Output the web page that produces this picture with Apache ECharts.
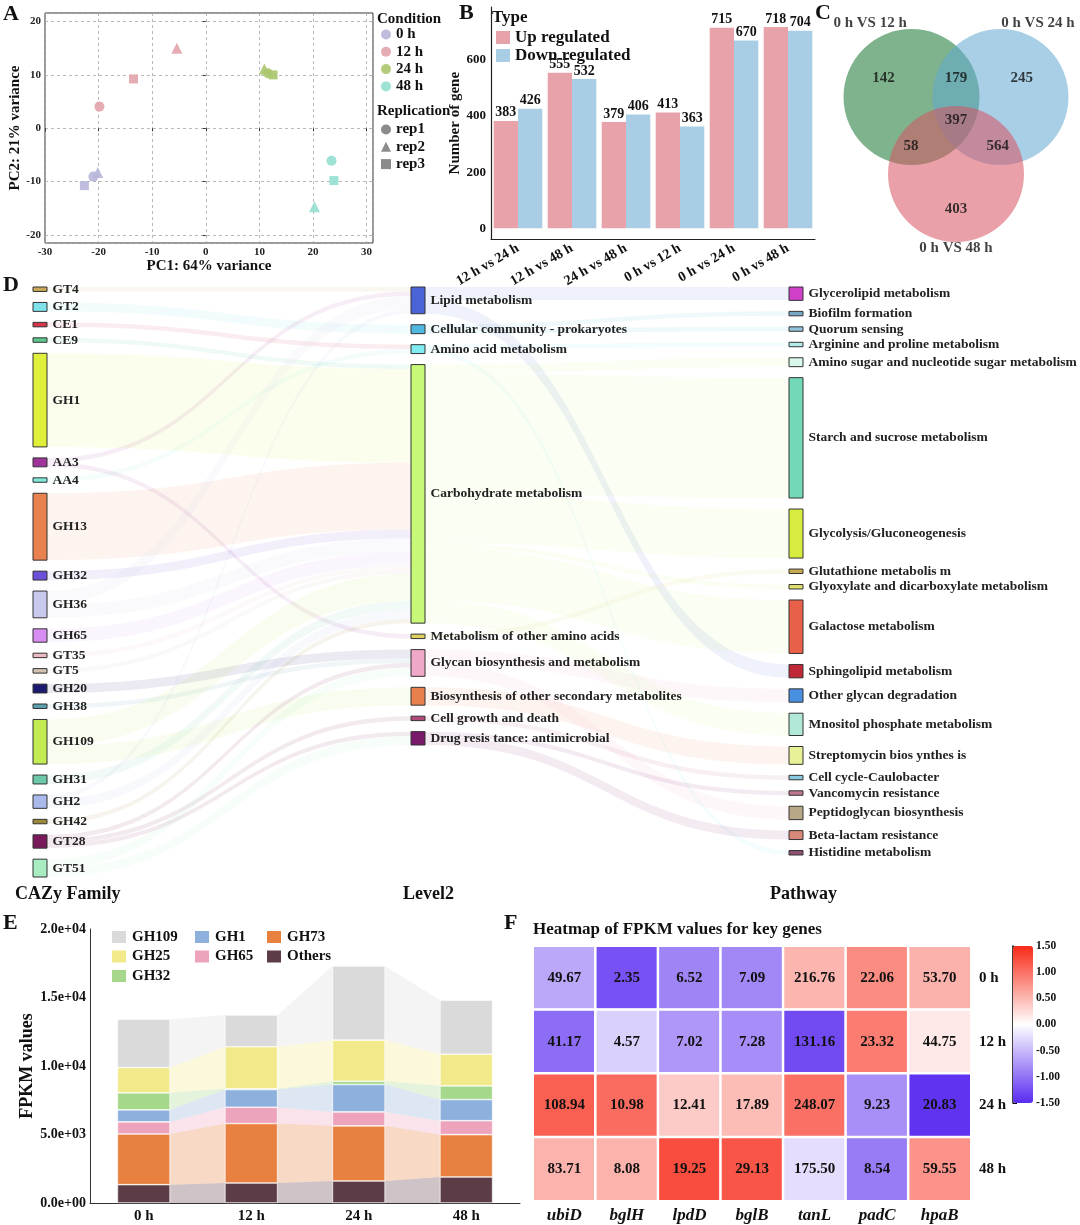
<!DOCTYPE html>
<html>
<head>
<meta charset="utf-8">
<script src="https://cdn.jsdelivr.net/npm/echarts@6.0.0/dist/echarts.min.js"></script>
<style>
html,body{margin:0;padding:0;background:#fff;}
#chart{width:1080px;height:1225px;}
</style>
</head>
<body>
<div id="chart"></div>
<script>
// ================= DATA =================
// A: PCA (each list ordered rep1, rep2, rep3)
const pcaConditions = ['0 h', '12 h', '24 h', '48 h'];
const pcaReplicates = ['rep1', 'rep2', 'rep3'];
const pca0h  = [[-20.97, -9.06], [-20.16, -8.30], [-22.65, -10.75]];
const pca12h = [[-19.85, 4.06], [-5.39, 15.00], [-13.49, 9.25]];
const pca24h = [[11.60, 10.30], [10.93, 11.10], [12.55, 10.00]];
const pca48h = [[23.46, -6.10], [20.28, -14.70], [23.90, -9.80]];

// B: DEG counts
const degComparisons = ['12 h vs 24 h', '12 h vs 48 h', '24 h vs 48 h', '0 h vs 12 h', '0 h vs 24 h', '0 h vs 48 h'];
const degUp   = [383, 555, 379, 413, 715, 718];
const degDown = [426, 532, 406, 363, 670, 704];

// C: Venn
const vennSets = ['0 h VS 12 h', '0 h VS 24 h', '0 h VS 48 h'];
const vennRegions = ['12 only', '24 only', '48 only', '12&24', '12&48', '24&48', 'all'];
const vennCounts = [142, 245, 403, 179, 58, 564, 397];

// D: Sankey
const cazyFamilies = ['GT4', 'GT2', 'CE1', 'CE9', 'GH1', 'AA3', 'AA4', 'GH13', 'GH32', 'GH36', 'GH65', 'GT35', 'GT5', 'GH20', 'GH38', 'GH109', 'GH31', 'GH2', 'GH42', 'GT28', 'GT51'];
const level2Categories = ['Lipid metabolism', 'Cellular community - prokaryotes', 'Amino acid metabolism', 'Carbohydrate metabolism', 'Metabolism of other amino acids', 'Glycan biosynthesis and metabolism', 'Biosynthesis of other secondary metabolites', 'Cell growth and death', 'Drug resis tance: antimicrobial'];
const pathways = ['Glycerolipid metabolism', 'Biofilm formation', 'Quorum sensing', 'Arginine and proline metabolism', 'Amino sugar and nucleotide sugar metabolism', 'Starch and sucrose metabolism', 'Glycolysis/Gluconeogenesis', 'Glutathione metabolis m', 'Glyoxylate and dicarboxylate metabolism', 'Galactose metabolism', 'Sphingolipid metabolism', 'Other glycan degradation', 'Mnositol phosphate metabolism', 'Streptomycin bios ynthes is', 'Cell cycle-Caulobacter', 'Vancomycin resistance', 'Peptidoglycan biosynthesis', 'Beta-lactam resistance', 'Histidine metabolism'];
const cazyToLevel2 = [
  ['GT4', 'Lipid metabolism', 1],
  ['GT2', 'Cellular community - prokaryotes', 2],
  ['CE1', 'Amino acid metabolism', 1],
  ['CE9', 'Carbohydrate metabolism', 1],
  ['GH1', 'Carbohydrate metabolism', 21],
  ['AA3', 'Lipid metabolism', 1],
  ['AA3', 'Metabolism of other amino acids', 1],
  ['AA4', 'Amino acid metabolism', 1],
  ['GH13', 'Carbohydrate metabolism', 15],
  ['GH32', 'Carbohydrate metabolism', 2],
  ['GH36', 'Lipid metabolism', 3],
  ['GH36', 'Carbohydrate metabolism', 3],
  ['GH65', 'Carbohydrate metabolism', 3],
  ['GT35', 'Carbohydrate metabolism', 1],
  ['GT5', 'Carbohydrate metabolism', 1],
  ['GH20', 'Glycan biosynthesis and metabolism', 2],
  ['GH38', 'Glycan biosynthesis and metabolism', 1],
  ['GH109', 'Carbohydrate metabolism', 6],
  ['GH109', 'Biosynthesis of other secondary metabolites', 4],
  ['GH31', 'Carbohydrate metabolism', 2],
  ['GH2', 'Lipid metabolism', 1],
  ['GH2', 'Carbohydrate metabolism', 2],
  ['GH42', 'Carbohydrate metabolism', 1],
  ['GT28', 'Glycan biosynthesis and metabolism', 1],
  ['GT28', 'Cell growth and death', 1],
  ['GT28', 'Drug resis tance: antimicrobial', 1],
  ['GT51', 'Glycan biosynthesis and metabolism', 2],
  ['GT51', 'Drug resis tance: antimicrobial', 2]
];
const level2ToPathway = [
  ['Lipid metabolism', 'Glycerolipid metabolism', 3],
  ['Lipid metabolism', 'Sphingolipid metabolism', 3],
  ['Cellular community - prokaryotes', 'Biofilm formation', 1],
  ['Cellular community - prokaryotes', 'Quorum sensing', 1],
  ['Amino acid metabolism', 'Arginine and proline metabolism', 1],
  ['Amino acid metabolism', 'Histidine metabolism', 1],
  ['Carbohydrate metabolism', 'Amino sugar and nucleotide sugar metabolism', 2],
  ['Carbohydrate metabolism', 'Starch and sucrose metabolism', 27],
  ['Carbohydrate metabolism', 'Glycolysis/Gluconeogenesis', 11],
  ['Carbohydrate metabolism', 'Glyoxylate and dicarboxylate metabolism', 1],
  ['Carbohydrate metabolism', 'Galactose metabolism', 12],
  ['Carbohydrate metabolism', 'Mnositol phosphate metabolism', 5],
  ['Metabolism of other amino acids', 'Glutathione metabolis m', 1],
  ['Glycan biosynthesis and metabolism', 'Other glycan degradation', 3],
  ['Glycan biosynthesis and metabolism', 'Peptidoglycan biosynthesis', 3],
  ['Biosynthesis of other secondary metabolites', 'Streptomycin bios ynthes is', 4],
  ['Cell growth and death', 'Cell cycle-Caulobacter', 1],
  ['Drug resis tance: antimicrobial', 'Vancomycin resistance', 1],
  ['Drug resis tance: antimicrobial', 'Beta-lactam resistance', 2]
];

// E: stacked FPKM
const timePoints = ['0 h', '12 h', '24 h', '48 h'];
const ghOthers = [1340, 1460, 1610, 1900];
const ghGH73   = [3700, 4340, 4020, 3090];
const ghGH65   = [880, 1190, 1020, 1020];
const ghGH1    = [880, 1290, 2000, 1540];
const ghGH32   = [1240, 60, 240, 1000];
const ghGH25   = [1850, 3070, 3000, 2310];
const ghGH109  = [3530, 2310, 5410, 3950];

// F: heatmap FPKM
const genes = ['ubiD', 'bglH', 'lpdD', 'bglB', 'tanL', 'padC', 'hpaB'];
const fpkmTimes = ['0 h', '12 h', '24 h', '48 h'];
const fpkm0h  = [49.67, 2.35, 6.52, 7.09, 216.76, 22.06, 53.70];
const fpkm12h = [41.17, 4.57, 7.02, 7.28, 131.16, 23.32, 44.75];
const fpkm24h = [108.94, 10.98, 12.41, 17.89, 248.07, 9.23, 20.83];
const fpkm48h = [83.71, 8.08, 19.25, 29.13, 175.50, 8.54, 59.55];

// ================= STYLE / LAYOUT =================
const FONT = 'Liberation Serif';
const T = (size, extra) => Object.assign({fontFamily: FONT, fontWeight: 'bold', fontSize: size, color: '#111'}, extra || {});

const condColors = ['#b7b6da', '#e2a3ab', '#abc66d', '#92dfcf'];
const repSymbols = ['circle', 'triangle', 'rect'];
const repSymbolSizes = [10, 11, 9];

const vennCircleCenters = [[-1, 1], [1, 1], [0, -1]];
const vennCircleColors = ['#167532', '#61a8d0', '#d75261'];
const vennCountPos = [[-1.63, 1.49], [1.48, 1.49], [0, -1.91], [0, 1.49], [-1.01, -0.27], [0.94, -0.27], [0, 0.40]];
const vennSetPos = [[-1.93, 2.92], [1.84, 2.92], [0, -2.92]];

const sankeyColors = {
  'GT4': '#c9a85c', 'GT2': '#7fe2ea', 'CE1': '#d8344a', 'CE9': '#5cc890', 'GH1': '#dff03a', 'AA3': '#a0339a',
  'AA4': '#80e8da', 'GH13': '#e8814e', 'GH32': '#6a4fd8', 'GH36': '#c9c9ee', 'GH65': '#d68cf0', 'GT35': '#ecb9c1',
  'GT5': '#d2c2b2', 'GH20': '#1c1a70', 'GH38': '#5aa0b0', 'GH109': '#c2ec52', 'GH31': '#6cc8a8', 'GH2': '#a9b9ec',
  'GH42': '#9a8a3a', 'GT28': '#7a1a5a', 'GT51': '#a9ecc2',
  'Lipid metabolism': '#4a64d8', 'Cellular community - prokaryotes': '#50b8e0', 'Amino acid metabolism': '#80ecf0',
  'Carbohydrate metabolism': '#c8f878', 'Metabolism of other amino acids': '#e0d060',
  'Glycan biosynthesis and metabolism': '#f0a8c8', 'Biosynthesis of other secondary metabolites': '#e8804e',
  'Cell growth and death': '#b04a78', 'Drug resis tance: antimicrobial': '#7a1a6a',
  'Glycerolipid metabolism': '#d040c8', 'Biofilm formation': '#78a8c8', 'Quorum sensing': '#92c2d8',
  'Arginine and proline metabolism': '#b2ecec', 'Amino sugar and nucleotide sugar metabolism': '#d9f8ec',
  'Starch and sucrose metabolism': '#72d8b8', 'Glycolysis/Gluconeogenesis': '#d8ec40', 'Glutathione metabolis m': '#c8a850',
  'Glyoxylate and dicarboxylate metabolism': '#e0e070', 'Galactose metabolism': '#e86048', 'Sphingolipid metabolism': '#c02838',
  'Other glycan degradation': '#4a90e0', 'Mnositol phosphate metabolism': '#b2e8d8', 'Streptomycin bios ynthes is': '#e8f098',
  'Cell cycle-Caulobacter': '#88c8e0', 'Vancomycin resistance': '#c07890', 'Peptidoglycan biosynthesis': '#b8a888',
  'Beta-lactam resistance': '#d88878', 'Histidine metabolism': '#905070'
};

const eLayerNames = ['Others', 'GH73', 'GH65', 'GH1', 'GH32', 'GH25', 'GH109'];
const eLayerValues = [ghOthers, ghGH73, ghGH65, ghGH1, ghGH32, ghGH25, ghGH109];
const eLayerColors = ['#5c3d47', '#e8803f', '#eea3bd', '#8db0dc', '#a5d88a', '#f2e98a', '#dadada'];
const E_BAR = 0.49;

// ================= DERIVED =================
const pcaSeriesData = [pca0h, pca12h, pca24h, pca48h];

const sankeyNodes = [].concat(cazyFamilies, level2Categories, pathways).map(n => ({name: n, itemStyle: {color: sankeyColors[n]}}));
const sankeyLinks = [].concat(cazyToLevel2, level2ToPathway).map(l => ({source: l[0], target: l[1], value: l[2]}));

const bandData = [];
(function () {
  const cum = timePoints.map(() => 0);
  eLayerValues.forEach((vals, li) => {
    const bottoms = cum.slice();
    vals.forEach((v, i) => { cum[i] += v; });
    for (let i = 0; i < timePoints.length - 1; i++) {
      bandData.push([i, bottoms[i], cum[i], bottoms[i + 1], cum[i + 1], li]);
    }
  });
})();

const fpkmRows = [fpkm0h, fpkm12h, fpkm24h, fpkm48h];
const zScores = genes.map((g, gi) => {
  const logs = fpkmRows.map(r => Math.log2(r[gi] + 1));
  const m = logs.reduce((a, b) => a + b, 0) / logs.length;
  const sd = Math.sqrt(logs.reduce((a, b) => a + (b - m) * (b - m), 0) / (logs.length - 1));
  return logs.map(v => (v - m) / sd);
});
const heatData = [];
fpkmRows.forEach((row, ti) => row.forEach((v, gi) => heatData.push([gi, ti, zScores[gi][ti], v])));

const sciFmt = v => {
  const e = v === 0 ? 0 : Math.floor(Math.log10(v) + 1e-9);
  const m = v / Math.pow(10, e);
  return m.toFixed(1) + 'e+' + String(e).padStart(2, '0');
};

// ================= OPTION =================
const titleItem = (text, left, top, size) => ({text: text, left: left, top: top, padding: 0, textStyle: T(size)});

const series = [];
// A
pcaConditions.forEach((c, ci) => {
  series.push({
    type: 'scatter', name: c, xAxisIndex: 0, yAxisIndex: 0,
    data: pcaSeriesData[ci].map((p, ri) => ({value: p, symbol: repSymbols[ri], symbolSize: repSymbolSizes[ri]})),
    itemStyle: {color: condColors[ci], opacity: 0.9}, z: 3
  });
});
pcaReplicates.forEach((r, ri) => {
  series.push({type: 'scatter', name: r, xAxisIndex: 0, yAxisIndex: 0, data: [], symbol: repSymbols[ri], itemStyle: {color: '#6e6e6e'}});
});
// B
series.push({
  type: 'bar', name: 'Up regulated', xAxisIndex: 1, yAxisIndex: 1, data: degUp,
  barGap: '0%', barCategoryGap: '10%', itemStyle: {color: '#e8a3aa'},
  label: {show: true, position: 'top', distance: 1, ...T(14)}
});
series.push({
  type: 'bar', name: 'Down regulated', xAxisIndex: 1, yAxisIndex: 1, data: degDown,
  barGap: '0%', barCategoryGap: '10%', itemStyle: {color: '#a9cde4'},
  label: {show: true, position: 'top', distance: 1, ...T(14)}
});
// C
series.push({
  type: 'scatter', name: 'venn', xAxisIndex: 2, yAxisIndex: 2, symbol: 'circle', symbolSize: 136, silent: true,
  data: vennCircleCenters.map((p, i) => ({value: p, itemStyle: {color: vennCircleColors[i], opacity: 0.55}}))
});
series.push({
  type: 'scatter', name: 'vennCounts', xAxisIndex: 2, yAxisIndex: 2, symbolSize: 1, silent: true, z: 5,
  itemStyle: {color: 'rgba(0,0,0,0)'},
  data: vennCountPos.map((p, i) => [p[0], p[1], vennCounts[i]]),
  label: {show: true, position: 'inside', formatter: p => String(p.value[2]), ...T(15)}
});
series.push({
  type: 'scatter', name: 'vennSets', xAxisIndex: 2, yAxisIndex: 2, symbolSize: 1, silent: true, z: 5,
  itemStyle: {color: 'rgba(0,0,0,0)'},
  data: vennSetPos.map((p, i) => ({value: p, name: vennSets[i]})),
  label: {show: true, position: 'inside', formatter: p => p.name, ...T(15)}
});
// D
series.push({
  type: 'sankey', left: 33, top: 287, width: 770, height: 590,
  nodeWidth: 14, nodeGap: 11, layoutIterations: 0, draggable: false,
  data: sankeyNodes, links: sankeyLinks,
  itemStyle: {borderColor: '#333', borderWidth: 1},
  lineStyle: {color: 'source', opacity: 0.09, curveness: 0.5},
  label: {position: 'right', distance: 5, ...T(13.5, {color: '#222'})},
  emphasis: {disabled: true}
});
// E bands
series.push({
  type: 'custom', name: 'bands', xAxisIndex: 3, yAxisIndex: 3, silent: true, z: 1,
  data: bandData, encode: {x: 0, y: [1, 2, 3, 4]},
  renderItem: function (params, api) {
    const i = api.value(0);
    const a = api.coord([i, api.value(1)]);
    const b = api.coord([i, api.value(2)]);
    const c = api.coord([i + 1, api.value(3)]);
    const d = api.coord([i + 1, api.value(4)]);
    const half = api.size([1, 0])[0] * E_BAR / 2;
    return {
      type: 'polygon',
      shape: {points: [[a[0] + half, a[1]], [b[0] + half, b[1]], [d[0] - half, d[1]], [c[0] - half, c[1]]]},
      style: {fill: eLayerColors[api.value(5)], opacity: 0.3}
    };
  }
});
// E bars
eLayerNames.forEach((n, li) => {
  series.push({
    type: 'bar', name: n, stack: 'fpkm', xAxisIndex: 3, yAxisIndex: 3, data: eLayerValues[li],
    barWidth: (E_BAR * 100) + '%', z: 2,
    itemStyle: {color: eLayerColors[li], borderColor: '#fff', borderWidth: 0.6}
  });
});
// F
const heatIdx = series.length;
series.push({
  type: 'heatmap', name: 'heat', xAxisIndex: 4, yAxisIndex: 4, data: heatData,
  itemStyle: {borderColor: '#fff', borderWidth: 2.5},
  label: {show: true, formatter: p => p.value[3].toFixed(2), ...T(15)},
  emphasis: {disabled: true}
});

const option = {
  animation: false,
  backgroundColor: '#ffffff',
  textStyle: {fontFamily: FONT},
  title: [
    titleItem('A', 3, 3, 22), titleItem('B', 459, 2, 22), titleItem('C', 815, 2, 22),
    titleItem('D', 3, 274, 22), titleItem('E', 3, 912, 22), titleItem('F', 504, 912, 22),
    titleItem('Condition', 377, 12, 15), titleItem('Replication', 377, 104, 15),
    titleItem('Type', 492, 9, 17),
    titleItem('CAZy Family', 15, 885, 18), titleItem('Level2', 403, 885, 18), titleItem('Pathway', 770, 885, 18),
    titleItem('Heatmap of FPKM values for key genes', 533, 921, 17)
  ],
  legend: [
    {data: pcaConditions, left: 381, top: 27, orient: 'vertical', icon: 'circle', itemWidth: 10, itemHeight: 10, itemGap: 2.3, padding: 0, selectedMode: false, textStyle: T(15, {lineHeight: 14})},
    {data: pcaReplicates, left: 381, top: 122, orient: 'vertical', itemWidth: 10, itemHeight: 10, itemGap: 2.3, padding: 0, selectedMode: false, textStyle: T(15, {lineHeight: 14})},
    {data: ['Up regulated', 'Down regulated'], left: 496, top: 29, orient: 'vertical', icon: 'rect', itemWidth: 14, itemHeight: 13, itemGap: 1, padding: 0, selectedMode: false, textStyle: T(17, {lineHeight: 14})},
    {data: ['GH109', 'GH25', 'GH32'], left: 110, top: 929, orient: 'vertical', icon: 'rect', itemWidth: 16, itemHeight: 14, itemGap: 3.5, padding: 0, selectedMode: false, textStyle: T(15, {lineHeight: 16})},
    {data: ['GH1', 'GH65'], left: 193, top: 929, orient: 'vertical', icon: 'rect', itemWidth: 16, itemHeight: 14, itemGap: 3.5, padding: 0, selectedMode: false, textStyle: T(15, {lineHeight: 16})},
    {data: ['GH73', 'Others'], left: 265, top: 929, orient: 'vertical', icon: 'rect', itemWidth: 16, itemHeight: 14, itemGap: 3.5, padding: 0, selectedMode: false, textStyle: T(15, {lineHeight: 16})}
  ],
  grid: [
    {left: 45, top: 13, width: 328, height: 230, show: true, borderColor: '#333', borderWidth: 1, outerBoundsMode: 'none'},
    {left: 491, top: 7, width: 324, height: 232.3, outerBoundsMode: 'none'},
    {left: 835.85, top: 20, width: 240.3, height: 231, outerBoundsMode: 'none'},
    {left: 90, top: 929, width: 430, height: 274, outerBoundsMode: 'none'},
    {left: 533, top: 946, width: 438, height: 255, outerBoundsMode: 'none'},
    {left: 1013, top: 946, width: 20, height: 157, outerBoundsMode: 'none'}
  ],
  xAxis: [
    {gridIndex: 0, type: 'value', min: -30, max: 31.2,
      name: 'PC1: 64% variance', nameLocation: 'middle', nameGap: 15, nameTextStyle: T(15),
      axisLine: {show: false}, axisTick: {show: true, length: 3, lineStyle: {color: '#333'}},
      splitLine: {show: true, lineStyle: {type: [3, 3], color: '#a8a8a8', width: 0.8}},
      axisLabel: {...T(11, {color: '#222'}), margin: 4, showMaxLabel: false}},
    {gridIndex: 1, type: 'category', data: degComparisons,
      axisLine: {show: true, onZero: false, lineStyle: {color: '#222', width: 1.2}}, axisTick: {show: false},
      axisLabel: {...T(14), rotate: 30, margin: 8, interval: 0}},
    {gridIndex: 2, type: 'value', min: -2.7, max: 2.7, show: false},
    {gridIndex: 3, type: 'category', data: timePoints,
      axisLine: {show: true, lineStyle: {color: '#333', width: 1}}, axisTick: {show: false},
      axisLabel: {...T(15), margin: 6}},
    {gridIndex: 4, type: 'category', data: genes, axisLine: {show: false}, axisTick: {show: false},
      axisLabel: {...T(17, {fontStyle: 'italic'}), margin: 6}},
    {gridIndex: 5, type: 'value', show: false}
  ],
  yAxis: [
    {gridIndex: 0, type: 'value', min: -21.5, max: 21.6,
      name: 'PC2: 21% variance', nameLocation: 'middle', nameGap: 11, nameTextStyle: T(15),
      axisLine: {show: false}, axisTick: {show: true, length: 3, lineStyle: {color: '#333'}},
      splitLine: {show: true, lineStyle: {type: [3, 3], color: '#a8a8a8', width: 0.8}},
      axisLabel: {...T(11, {color: '#222'}), margin: 4, showMinLabel: false, showMaxLabel: false}},
    {gridIndex: 1, type: 'value', min: -39.2, max: 789, splitNumber: 4,
      name: 'Number of gene', nameLocation: 'middle', nameGap: 21, nameTextStyle: T(15),
      axisLine: {show: true, lineStyle: {color: '#222', width: 1.2}}, axisTick: {show: false},
      splitLine: {show: false},
      axisLabel: {...T(13), margin: 5, showMinLabel: false, showMaxLabel: false}},
    {gridIndex: 2, type: 'value', min: -3, max: 3, show: false},
    {gridIndex: 3, type: 'value', min: 0, max: 20000, interval: 5000,
      name: 'FPKM values', nameLocation: 'middle', nameGap: 54, nameTextStyle: T(18),
      axisLine: {show: true, lineStyle: {color: '#333', width: 1}}, axisTick: {show: false},
      splitLine: {show: false},
      axisLabel: {...T(14), margin: 4, formatter: sciFmt}},
    {gridIndex: 4, type: 'category', data: fpkmTimes, inverse: true, position: 'right',
      axisLine: {show: false}, axisTick: {show: false}, axisLabel: {...T(15), margin: 8}},
    {gridIndex: 5, type: 'value', position: 'right', min: -1.5, max: 1.5, interval: 0.5,
      axisLine: {show: true, lineStyle: {color: '#000', width: 1.5}},
      axisTick: {show: true, length: 4, lineStyle: {color: '#000'}},
      splitLine: {show: false},
      axisLabel: {...T(11.5), margin: 3, formatter: v => v.toFixed(2)}}
  ],
  visualMap: [{
    type: 'continuous', seriesIndex: heatIdx, dimension: 2, min: -1.5, max: 1.5,
    inRange: {color: ['#5a2cf0', '#ffffff', '#f82a18']},
    left: 1013, top: 946, itemWidth: 20, itemHeight: 157, padding: 0,
    calculable: false, orient: 'vertical', hoverLink: false
  }],
  series: series
};

const chart = echarts.init(document.getElementById('chart'), null, {renderer: 'canvas'});
chart.setOption(option);
</script>
</body>
</html>
